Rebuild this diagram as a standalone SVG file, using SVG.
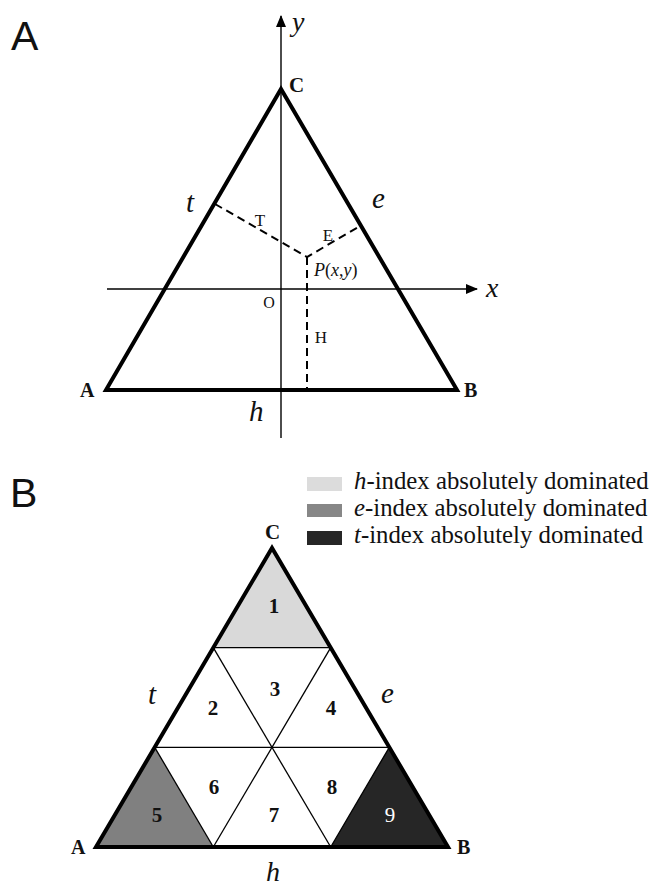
<svg xmlns="http://www.w3.org/2000/svg" width="654" height="888" viewBox="0 0 654 888">
<style>
.panel{font-family:"Liberation Sans",Arial,sans-serif;font-size:41px;fill:#111}
.ser{font-family:"Liberation Serif","Times New Roman",serif;fill:#111}
.it{font-style:italic}
.bold{font-weight:bold}
.thick{fill:none;stroke:#000;stroke-width:4;stroke-linejoin:miter}
.thin{fill:none;stroke:#000;stroke-width:1.3}
.axis{fill:none;stroke:#000;stroke-width:1.4}
.dash{fill:none;stroke:#000;stroke-width:2;stroke-dasharray:8 5}
.num{font-family:"Liberation Serif","Times New Roman",serif;font-size:21px;font-weight:bold;text-anchor:middle;fill:#111}
</style>
<defs>
<marker id="arr" markerWidth="12" markerHeight="10" refX="11" refY="5" orient="auto" markerUnits="userSpaceOnUse">
<path d="M0,0 L12,5 L0,10 Z" fill="#000"/>
</marker>
</defs>

<!-- Panel A -->
<g id="panelA">
<text class="panel" x="11" y="50">A</text>
<g id="axes">
<line class="axis" x1="281" y1="438" x2="281" y2="16" marker-end="url(#arr)"/>
<line class="axis" x1="107" y1="289" x2="477" y2="289" marker-end="url(#arr)"/>
<text class="ser it" x="292" y="31" font-size="28">y</text>
<text class="ser it" x="486" y="297" font-size="28">x</text>
<text class="ser" x="269" y="308" font-size="16" text-anchor="middle">O</text>
</g>
<g id="triangleA">
<polygon class="thick" points="106,390 457,390 281,89"/>
<text class="ser bold" x="289" y="92" font-size="21">C</text>
<text class="ser bold" x="80" y="397" font-size="20">A</text>
<text class="ser bold" x="464" y="397" font-size="20">B</text>
<text class="ser it" x="186" y="212" font-size="29">t</text>
<text class="ser it" x="372" y="208" font-size="29">e</text>
<text class="ser it" x="249" y="421" font-size="29">h</text>
</g>
<g id="pointP">
<polyline class="dash" points="215,204 307,257 360,226"/>
<line class="dash" x1="307" y1="257" x2="307" y2="390"/>
<text class="ser" x="260" y="226" font-size="17" text-anchor="middle">T</text>
<text class="ser" x="328" y="241" font-size="17" text-anchor="middle">E</text>
<text class="ser" x="321" y="343" font-size="17" text-anchor="middle">H</text>
<text class="ser" x="314" y="276" font-size="18"><tspan font-style="italic">P</tspan>(<tspan font-style="italic">x</tspan>,<tspan font-style="italic">y</tspan>)</text>
</g>
</g>

<!-- Panel B -->
<g id="panelB">
<text class="panel" x="10" y="507">B</text>
<g id="legend">
<rect x="307" y="477" width="35" height="14" fill="#dcdcdc"/>
<rect x="307" y="504" width="35" height="13" fill="#878787"/>
<rect x="307" y="531" width="35" height="14" fill="#262626"/>
<text class="ser" x="354" y="489" font-size="24.8"><tspan font-style="italic">h</tspan>-index absolutely dominated</text>
<text class="ser" x="354" y="516" font-size="24.8"><tspan font-style="italic">e</tspan>-index absolutely dominated</text>
<text class="ser" x="354" y="543" font-size="24.8"><tspan font-style="italic">t</tspan>-index absolutely dominated</text>
</g>
<g id="region1"><polygon points="272,548 213.3,647.7 330.7,647.7" fill="#d9d9d9"/><text class="num" x="274" y="613">1</text></g>
<g id="region5"><polygon points="96,847 154.7,747.3 213.3,847" fill="#808080"/><text class="num" x="157" y="822">5</text></g>
<g id="region9"><polygon points="448,847 389.3,747.3 330.7,847" fill="#262626"/><text class="num" x="390" y="822" style="fill:#fff;font-weight:normal">9</text></g>
<g id="region2"><text class="num" x="213" y="715">2</text></g>
<g id="region3"><text class="num" x="275" y="696">3</text></g>
<g id="region4"><text class="num" x="331" y="715">4</text></g>
<g id="region6"><text class="num" x="214" y="794">6</text></g>
<g id="region7"><text class="num" x="274" y="822">7</text></g>
<g id="region8"><text class="num" x="332" y="794">8</text></g>
<g id="connectors">
<line class="thin" x1="213.3" y1="647.7" x2="330.7" y2="647.7"/>
<line class="thin" x1="154.7" y1="747.3" x2="389.3" y2="747.3"/>
<line class="thin" x1="213.3" y1="647.7" x2="330.7" y2="847"/>
<line class="thin" x1="330.7" y1="647.7" x2="213.3" y2="847"/>
<line class="thin" x1="154.7" y1="747.3" x2="213.3" y2="847"/>
<line class="thin" x1="389.3" y1="747.3" x2="330.7" y2="847"/>
</g>
<g id="triangleB">
<polygon class="thick" points="96,847 448,847 272,548"/>
<text class="ser bold" x="265" y="539" font-size="21">C</text>
<text class="ser bold" x="71" y="854" font-size="20">A</text>
<text class="ser bold" x="457" y="854" font-size="20">B</text>
<text class="ser it" x="148" y="704" font-size="29">t</text>
<text class="ser it" x="381" y="703" font-size="29">e</text>
<text class="ser it" x="266" y="881" font-size="28">h</text>
</g>
</g>
</svg>
